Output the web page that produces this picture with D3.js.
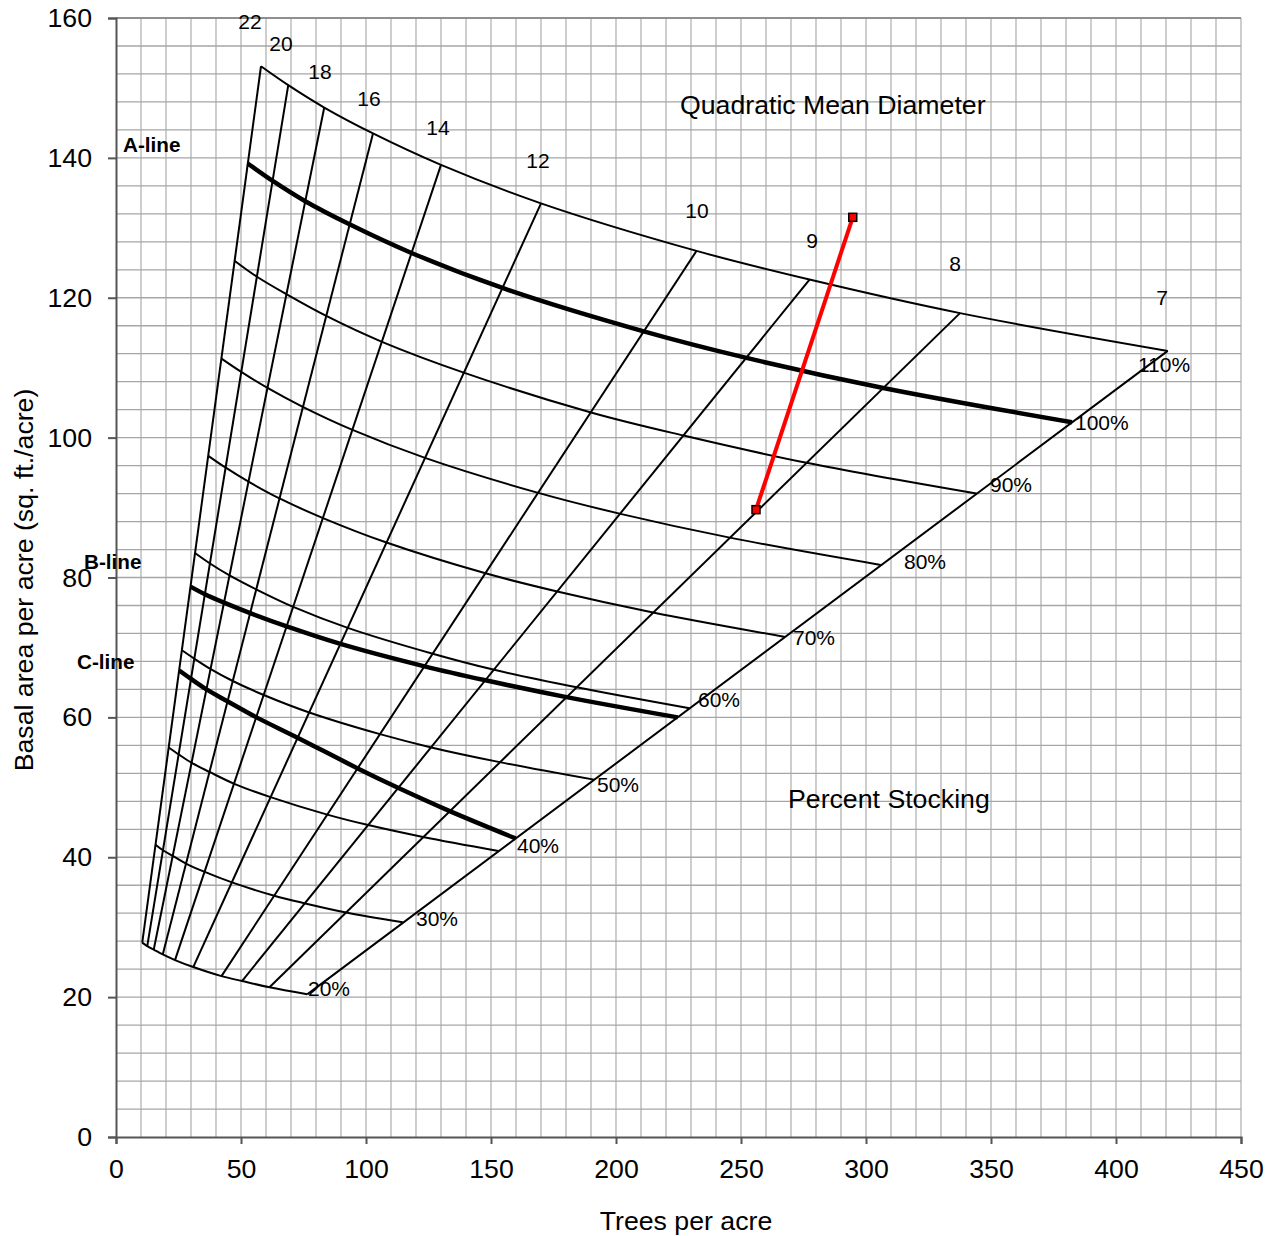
<!DOCTYPE html>
<html lang="en">
<head>
<meta charset="UTF-8" />
<title>Stocking chart</title>
<script src="https://d3js.org/d3.v7.min.js"></script>
<style>
  body { margin: 0; background: #fff; }
  svg { display: block; font-family: "Liberation Sans", Arial, sans-serif; }
</style>
</head>
<body>
<svg id="chart" width="1277" height="1236"></svg>
<script>
// quadratic mean diameter of each diameter line (left to right)
const diameters = [22, 20, 18, 16, 14, 12, 10, 9, 8, 7];

// percent stocking curves, one point per diameter line
const stockingLevels = [20, 30, 40, 50, 60, 70, 80, 90, 100, 110];
const stockingTpa = [
  [10.5, 12.5, 15.1, 18.7, 23.6, 30.9, 42.2, 50.4, 61.4, 76.5],
  [15.8, 18.8, 22.7, 28.0, 35.5, 46.4, 63.3, 75.7, 92.1, 114.7],
  [21.1, 25.1, 30.3, 37.4, 47.3, 61.8, 84.5, 100.9, 122.8, 153.0],
  [26.4, 31.3, 37.9, 46.7, 59.1, 77.3, 105.6, 126.1, 153.5, 191.2],
  [31.6, 37.6, 45.4, 56.1, 70.9, 92.7, 126.7, 151.3, 184.2, 229.4],
  [36.9, 43.9, 53.0, 65.4, 82.8, 108.2, 147.8, 176.5, 214.8, 267.7],
  [42.2, 50.1, 60.6, 74.7, 94.6, 123.6, 168.9, 201.8, 245.5, 305.9],
  [47.4, 56.4, 68.2, 84.1, 106.4, 139.1, 190.0, 227.0, 276.2, 344.2],
  [52.7, 62.7, 75.7, 93.4, 118.2, 154.6, 211.1, 252.2, 306.9, 382.4],
  [58.0, 68.9, 83.3, 102.8, 130.0, 170.0, 232.2, 277.4, 337.6, 420.7]
];
const stockingBa = [
  [27.8, 27.3, 26.8, 26.1, 25.3, 24.3, 23.0, 22.3, 21.4, 20.4],
  [41.8, 41.0, 40.2, 39.1, 37.9, 36.4, 34.5, 33.4, 32.1, 30.7],
  [55.7, 54.7, 53.5, 52.2, 50.5, 48.6, 46.1, 44.6, 42.9, 40.9],
  [69.6, 68.4, 66.9, 65.2, 63.2, 60.7, 57.6, 55.7, 53.6, 51.1],
  [83.5, 82.0, 80.3, 78.3, 75.8, 72.8, 69.1, 66.8, 64.3, 61.3],
  [97.4, 95.7, 93.7, 91.3, 88.5, 85.0, 80.6, 78.0, 75.0, 71.5],
  [111.3, 109.4, 107.1, 104.4, 101.1, 97.1, 92.1, 89.1, 85.7, 81.8],
  [125.3, 123.0, 120.5, 117.4, 113.7, 109.3, 103.6, 100.3, 96.4, 92.0],
  [139.2, 136.7, 133.8, 130.5, 126.4, 121.4, 115.2, 111.4, 107.1, 102.2],
  [153.1, 150.4, 147.2, 143.5, 139.0, 133.5, 126.7, 122.6, 117.8, 112.4]
];

// B-line and C-line
const bLineTpa = [29.8, 35.6, 43.2, 53.7, 68.3, 89.8, 123.4, 147.8, 180.2, 224.7];
const bLineBa  = [78.7, 77.6, 76.4, 74.9, 73.0, 70.5, 67.3, 65.3, 62.9, 60.0];
const cLineTpa = [25.3, 30.0, 36.2, 44.6, 56.2, 72.6, 96.7, 113.0, 133.5, 159.8];
const cLineBa  = [66.7, 65.5, 64.0, 62.3, 60.0, 57.1, 52.7, 49.9, 46.6, 42.7];

// stand before / after (red segment)
const standTpa = [294.7, 256.0];
const standBa  = [131.5, 89.7];

// axis ticks
const xTicks = [0, 50, 100, 150, 200, 250, 300, 350, 400, 450];
const yTicks = [0, 20, 40, 60, 80, 100, 120, 140, 160];

// label anchors (trees, basal area)
const diameterLabelAt = [[53.6, 159.5], [66, 156.4], [81.6, 152.4], [101.2, 148.4], [128.8, 144.3],
  [168.8, 139.6], [232.4, 132.5], [278.4, 128.2], [335.6, 124.9], [418.4, 120.0]];
const stockingLabelAt = [[76.8, 21.2], [120, 31.2], [160.4, 41.6], [192.4, 50.4], [232.8, 62.5],
  [270.8, 71.4], [315.2, 82.3], [349.6, 93.3], [383.6, 102.1], [408.8, 110.4]];
const noteText = ["A-line", "B-line", "C-line"];
const noteAt = [[2.8, 141.9], [-12.8, 82.3], [-15.6, 68.0]];

const svg = d3.select("#chart");
const x = d3.scaleLinear().domain([0, 450]).range([116, 1241]);
const y = d3.scaleLinear().domain([0, 160]).range([1137, 18]);

// grid
const grid = svg.append("g");
grid.selectAll(".vg")
  .data(d3.range(10, 451, 10))
  .enter().append("line")
  .attr("x1", d => x(d)).attr("x2", d => x(d))
  .attr("y1", y(0)).attr("y2", y(160))
  .attr("stroke", "#b3b3b3").attr("stroke-width", 1.3);
grid.selectAll(".hg")
  .data(d3.range(4, 161, 4))
  .enter().append("line")
  .attr("x1", x(0)).attr("x2", x(450))
  .attr("y1", d => y(d)).attr("y2", d => y(d))
  .attr("stroke", "#a6a6a6").attr("stroke-width", 1.3);
grid.append("line")
  .attr("x1", x(0)).attr("x2", x(450)).attr("y1", y(160)).attr("y2", y(160))
  .attr("stroke", "#808080").attr("stroke-width", 1.5);

// axes
const xAxis = svg.append("g")
  .attr("transform", `translate(0,${y(0)})`)
  .call(d3.axisBottom(x).tickValues(xTicks).tickSize(7).tickPadding(15));
const yAxis = svg.append("g")
  .attr("transform", `translate(${x(0)},0)`)
  .call(d3.axisLeft(y).tickValues(yTicks).tickSize(8).tickPadding(16));
[xAxis, yAxis].forEach(a => {
  a.select(".domain").attr("stroke", "#555").attr("stroke-width", 2);
  a.selectAll(".tick line").attr("stroke", "#555").attr("stroke-width", 2);
  a.selectAll(".tick text")
    .attr("font-family", "Liberation Sans, Arial, sans-serif")
    .attr("font-size", 26.7).attr("fill", "#000");
});

svg.append("text")
  .attr("x", 686).attr("y", 1230)
  .attr("text-anchor", "middle").attr("font-size", 26.7)
  .text("Trees per acre");
svg.append("text")
  .attr("transform", "translate(33,580) rotate(-90)")
  .attr("text-anchor", "middle").attr("font-size", 26.7)
  .text("Basal area per acre (sq. ft./acre)");

const line = d3.line()
  .x(d => x(d[0])).y(d => y(d[1]))
  .curve(d3.curveCatmullRom.alpha(0.5));
const pts = (t, b) => t.map((v, i) => [v, b[i]]);

const chart = svg.append("g").attr("fill", "none").attr("stroke", "#000");

// diameter lines: from the lowest to the highest stocking curve
chart.selectAll(".dia")
  .data(diameters)
  .enter().append("line")
  .attr("x1", (d, i) => x(stockingTpa[0][i]))
  .attr("y1", (d, i) => y(stockingBa[0][i]))
  .attr("x2", (d, i) => x(stockingTpa[stockingTpa.length - 1][i]))
  .attr("y2", (d, i) => y(stockingBa[stockingBa.length - 1][i]))
  .attr("stroke-width", 2);

// stocking curves (100% is the A-line, drawn heavy)
chart.selectAll(".stock")
  .data(stockingLevels)
  .enter().append("path")
  .attr("d", (s, i) => line(pts(stockingTpa[i], stockingBa[i])))
  .attr("stroke-width", s => s === 100 ? 4.5 : 2);

chart.append("path").attr("d", line(pts(bLineTpa, bLineBa))).attr("stroke-width", 4.5);
chart.append("path").attr("d", line(pts(cLineTpa, cLineBa))).attr("stroke-width", 4.5);

// labels
svg.selectAll(".dlab")
  .data(diameters)
  .enter().append("text")
  .attr("x", (d, i) => x(diameterLabelAt[i][0]))
  .attr("y", (d, i) => y(diameterLabelAt[i][1]))
  .attr("text-anchor", "middle").attr("dy", "0.35em")
  .attr("font-size", 21)
  .text(d => d);
svg.selectAll(".slab")
  .data(stockingLevels)
  .enter().append("text")
  .attr("x", (d, i) => x(stockingLabelAt[i][0]))
  .attr("y", (d, i) => y(stockingLabelAt[i][1]))
  .attr("dy", "0.35em")
  .attr("font-size", 21)
  .text(d => d + "%");
svg.selectAll(".note")
  .data(noteText)
  .enter().append("text")
  .attr("x", (d, i) => x(noteAt[i][0]))
  .attr("y", (d, i) => y(noteAt[i][1]))
  .attr("dy", "0.35em")
  .attr("font-size", 20.7).attr("font-weight", "bold")
  .text(d => d);

svg.append("text")
  .attr("x", x(225.6)).attr("y", y(147.6)).attr("dy", "0.35em")
  .attr("font-size", 26.7)
  .text("Quadratic Mean Diameter");
svg.append("text")
  .attr("x", x(268.8)).attr("y", y(48.35)).attr("dy", "0.35em")
  .attr("font-size", 26.7)
  .text("Percent Stocking");

// stand change
const stand = pts(standTpa, standBa);
svg.append("path")
  .attr("d", d3.line().x(d => x(d[0])).y(d => y(d[1]))(stand))
  .attr("fill", "none").attr("stroke", "#ff0000").attr("stroke-width", 4);
svg.selectAll(".mk")
  .data(stand)
  .enter().append("rect")
  .attr("x", d => x(d[0]) - 4).attr("y", d => y(d[1]) - 4)
  .attr("width", 8).attr("height", 8)
  .attr("fill", "#ff0000").attr("stroke", "#000").attr("stroke-width", 1.5);
</script>
</body>
</html>
